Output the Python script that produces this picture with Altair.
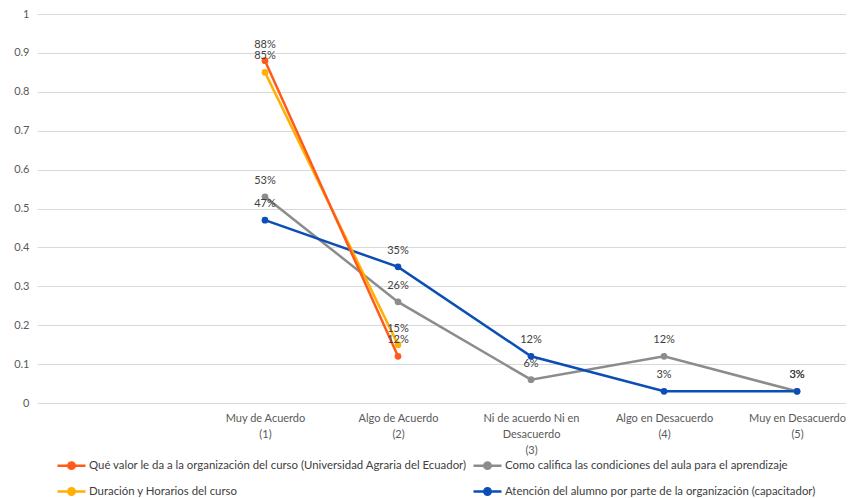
import altair as alt
import pandas as pd

categories = ["Muy de Acuerdo|(1)", "Algo de Acuerdo|(2)", "Ni de acuerdo Ni en|Desacuerdo|(3)",
              "Algo en Desacuerdo|(4)", "Muy en Desacuerdo|(5)"]
series_names = [
    "Qué valor le da a la organización del curso (Universidad Agraria del Ecuador)",
    "Duración y Horarios del curso",
    "Como califica las condiciones del aula para el aprendizaje",
    "Atención del alumno por parte de la organización (capacitador)",
]
colors = ["#FF5A1A", "#FFB000", "#8C8C8C", "#0B4EB5"]

valor_curso = [0.88, 0.12, None, None, None]
duracion_horarios = [0.85, 0.15, None, None, None]
condiciones_aula = [0.53, 0.26, 0.06, 0.12, 0.03]
atencion_alumno = [0.47, 0.35, 0.12, 0.03, 0.03]

series_values = [valor_curso, duracion_horarios, condiciones_aula, atencion_alumno]
draw_order = [2, 3, 1, 0]

rows = []
for i in draw_order:
    for k, v in enumerate(series_values[i]):
        if v is not None:
            rows.append({"serie": series_names[i], "idx": k + 1, "valor": v, "orden": i})
df = pd.DataFrame(rows)

font = "Lato"
legend_path = "M-1.75,0H1.75M0.4,0A0.4,0.4,0,1,1,-0.4,0A0.4,0.4,0,1,1,0.4,0Z"
label_array = "[" + ", ".join("'" + c + "'" for c in categories) + "]"

x = alt.X("idx:Q",
          scale=alt.Scale(domain=[-0.714, 5.368], nice=False, zero=False),
          axis=alt.Axis(title=None, values=[1, 2, 3, 4, 5],
                        labelExpr="split(" + label_array + "[datum.value - 1], '|')",
                        labelAngle=0, ticks=False, domain=False, grid=False, labelPadding=9,
                        labelFont=font, labelFontSize=11, labelColor="#595959",
                        labelLineHeight=16, labelFlush=False, labelOverlap=False))
y = alt.Y("valor:Q", scale=alt.Scale(domain=[0, 1], nice=False),
          axis=alt.Axis(title=None, values=[i / 10 for i in range(11)], format="~g",
                        ticks=False, domain=False, grid=True, gridColor="#D9D9D9",
                        labelPadding=8, labelFont=font, labelFontSize=11, labelColor="#595959"))
color = alt.Color("serie:N",
                  scale=alt.Scale(domain=series_names, range=colors),
                  legend=alt.Legend(title=None, orient="none", legendX=25, legendY=442,
                                    columns=2, columnPadding=1, rowPadding=8,
                                    symbolType=legend_path, symbolSize=256,
                                    symbolStrokeWidth=2.5, labelOffset=8,
                                    labelFont=font, labelFontSize=11.4, labelColor="#404040",
                                    labelLimit=600))

lines = alt.Chart(df).mark_line(strokeWidth=2.5,
                                point=alt.OverlayMarkDef(size=45, filled=True)).encode(
    x=x, y=y, color=color, detail="serie:N", order="idx:Q")

labels = alt.Chart(df).mark_text(dy=-16, font=font, fontSize=11, color="#404040").encode(
    x=x, y=y, text=alt.Text("valor:Q", format=".0%"))

chart = (lines + labels).properties(
    width=809, height=389,
    autosize=alt.AutoSizeParams(type="none"),
    padding={"left": 29, "top": 6, "right": 0, "bottom": 95},
).configure_view(stroke=None)

chart.save("out.html", embed_options={"renderer": "svg", "actions": False})
